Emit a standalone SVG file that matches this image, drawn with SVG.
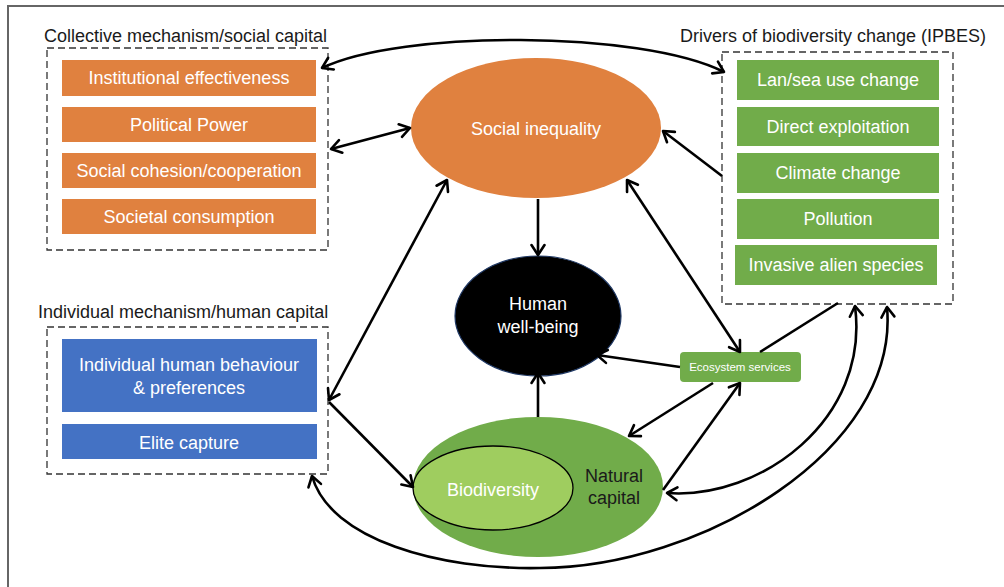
<svg xmlns="http://www.w3.org/2000/svg" width="1004" height="587" viewBox="0 0 1004 587">
<defs>
<style>
.t{font-family:"Liberation Sans",Arial,sans-serif;font-size:18px;fill:#fff;text-anchor:middle}
.h{font-family:"Liberation Sans",Arial,sans-serif;font-size:18px;fill:#1a1a1a}
.d{fill:none;stroke:#333;stroke-width:1.3;stroke-dasharray:7 4}
.o{fill:#E0813F}
.g{fill:#71AC4A}
.b{fill:#4472C4}
.c{fill:none;stroke:#000;stroke-width:2.6}
</style>
<marker id="ah" viewBox="-13 -9 16 18" refX="0" refY="0" markerWidth="16" markerHeight="18" markerUnits="userSpaceOnUse" orient="auto-start-reverse">
<path d="M-10,-6.5 L0,0 L-10,6.5" fill="none" stroke="#000" stroke-width="2.6" stroke-linejoin="round" stroke-linecap="round"/>
</marker>
</defs>
<rect width="1004" height="587" fill="#fff"/>
<rect x="8" y="6" width="1010" height="600" fill="none" stroke="#666" stroke-width="2"/>

<g id="collective">
<text class="h" x="44" y="42">Collective mechanism/social capital</text>
<rect class="d" x="47" y="48" width="281" height="202"/>
<rect class="o" x="62" y="60" width="254" height="36"/>
<text class="t" x="189" y="84">Institutional effectiveness</text>
<rect class="o" x="62" y="107" width="254" height="35"/>
<text class="t" x="189" y="131">Political Power</text>
<rect class="o" x="62" y="153" width="254" height="35"/>
<text class="t" x="189" y="177">Social cohesion/cooperation</text>
<rect class="o" x="62" y="199" width="254" height="35"/>
<text class="t" x="189" y="223">Societal consumption</text>
</g>

<g id="drivers">
<text class="h" x="680" y="42">Drivers of biodiversity change (IPBES)</text>
<rect class="d" x="722" y="52" width="231" height="252"/>
<rect class="g" x="737" y="60" width="202" height="40"/>
<text class="t" x="838" y="86">Lan/sea use change</text>
<rect class="g" x="737" y="107" width="202" height="39"/>
<text class="t" x="838" y="133">Direct exploitation</text>
<rect class="g" x="737" y="153" width="202" height="40"/>
<text class="t" x="838" y="179">Climate change</text>
<rect class="g" x="737" y="199" width="202" height="40"/>
<text class="t" x="838" y="225">Pollution</text>
<rect class="g" x="735" y="245" width="202" height="40"/>
<text class="t" x="836" y="271">Invasive alien species</text>
</g>

<g id="individual">
<text class="h" x="38" y="318">Individual mechanism/human capital</text>
<rect class="d" x="47" y="327" width="281" height="147"/>
<rect class="b" x="62" y="339" width="255" height="73"/>
<text class="t" x="189" y="371">Individual human behaviour</text>
<text class="t" x="189" y="394">&amp; preferences</text>
<rect class="b" x="62" y="424" width="255" height="35"/>
<text class="t" x="189" y="449">Elite capture</text>
</g>

<g id="social-inequality">
<ellipse cx="536" cy="128" rx="125" ry="70" fill="#E0813F"/>
<text class="t" x="536" y="135">Social inequality</text>
</g>

<g id="human-wellbeing">
<ellipse cx="538" cy="316" rx="83" ry="60" fill="#000" stroke="#1F3864" stroke-width="1.2"/>
<text class="t" x="538" y="310">Human</text>
<text class="t" x="538" y="333">well-being</text>
</g>

<g id="natural-capital">
<ellipse cx="538" cy="487" rx="125" ry="70" fill="#71AC4A"/>
<ellipse cx="493" cy="488" rx="80" ry="42" fill="#9FCD5F" stroke="#000" stroke-width="1.3"/>
<text class="t" x="493" y="496">Biodiversity</text>
<text class="h" x="614" y="482" text-anchor="middle">Natural</text>
<text class="h" x="614" y="504" text-anchor="middle">capital</text>
</g>

<g id="ecosystem-services">
<rect x="680" y="352" width="121" height="30" rx="4" fill="#71AC4A"/>
<text class="t" x="740" y="371" style="font-size:11.5px">Ecosystem services</text>
</g>

<g id="connectors">
<path class="c" d="M322,68 C400,30 640,30 724,72" marker-start="url(#ah)" marker-end="url(#ah)"/>
<path class="c" d="M331,149 L410,128" marker-start="url(#ah)" marker-end="url(#ah)"/>
<path class="c" d="M538,199 L538,255" marker-end="url(#ah)"/>
<path class="c" d="M722,176 L663,131" marker-end="url(#ah)"/>
<path class="c" d="M329,400 L447,180" marker-start="url(#ah)" marker-end="url(#ah)"/>
<path class="c" d="M329,402 L413,487" marker-end="url(#ah)"/>
<path class="c" d="M627,180 L740,352" marker-start="url(#ah)" marker-end="url(#ah)"/>
<path class="c" d="M680,367 L597,355" marker-end="url(#ah)"/>
<path class="c" d="M538,417 L538,373" marker-end="url(#ah)"/>
<path class="c" d="M713,383 L629,436" marker-end="url(#ah)"/>
<path class="c" d="M663,490 L740,383" marker-end="url(#ah)"/>
<path class="c" d="M760,352 L838,303"/>
<path class="c" d="M667,493 C760,500 870,420 855,306" marker-start="url(#ah)" marker-end="url(#ah)"/>
<path class="c" d="M312,476 C330,540 440,570 540,568 C700,568 900,450 887,307" marker-start="url(#ah)" marker-end="url(#ah)"/>
</g>
</svg>
